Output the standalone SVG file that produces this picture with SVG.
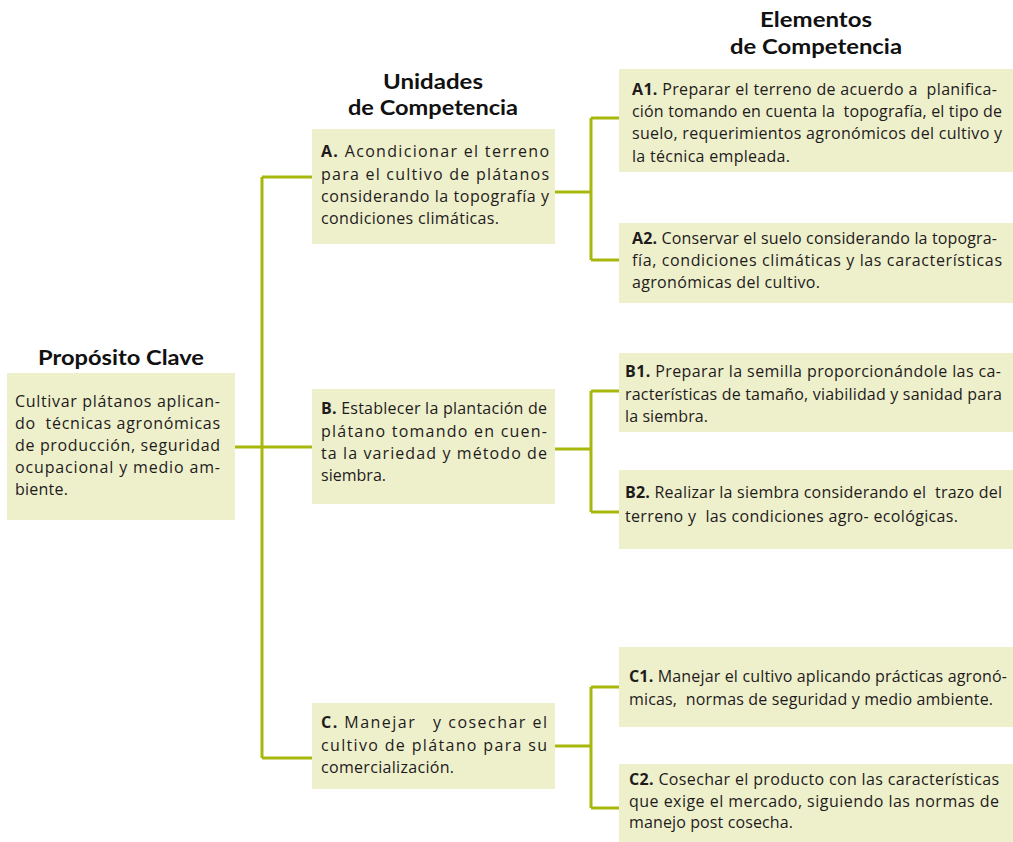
<svg xmlns="http://www.w3.org/2000/svg" width="1013" height="842" viewBox="0 0 1013 842">
<style>
.box{fill:#eef0cc}
.t{font-family:"Open Sans","Liberation Sans",sans-serif;font-size:16px;fill:#1e1b1c;white-space:pre}
.b{font-weight:bold}
.h{font-family:Lato,"Liberation Sans",sans-serif;font-size:21px;font-weight:bold;fill:#111;text-anchor:middle}
.c{fill:none;stroke:#a8b70c;stroke-width:3}
</style>
<rect width="1013" height="842" fill="#ffffff"/>
<g id="connectors">
<path class="c" d="M262,177 V758 M262,177 H312 M262,758 H312 M235,447 H312"/>
<path class="c" d="M555,192 H591 M591,118 V260 M591,118 H619 M591,260 H619"/>
<path class="c" d="M555,449 H591 M591,391 V512 M591,391 H619 M591,512 H619"/>
<path class="c" d="M555,746 H591 M591,687 V808 M591,687 H619 M591,808 H619"/>
</g>
<g id="headers">
<text class="h" x="121" y="365" textLength="166" lengthAdjust="spacingAndGlyphs">Propósito Clave</text>
<text class="h" x="433" y="89" textLength="100" lengthAdjust="spacingAndGlyphs">Unidades</text>
<text class="h" x="433" y="115" textLength="170" lengthAdjust="spacingAndGlyphs">de Competencia</text>
<text class="h" x="816" y="27" textLength="112" lengthAdjust="spacingAndGlyphs">Elementos</text>
<text class="h" x="816" y="54" textLength="172" lengthAdjust="spacingAndGlyphs">de Competencia</text>
</g>
<g id="proposito">
<rect class="box" x="7" y="373" width="228" height="147"/>
<text class="t" x="15" y="407" textLength="205" lengthAdjust="spacing">Cultivar plátanos aplican-</text>
<text class="t" x="15" y="429" textLength="205" lengthAdjust="spacing">do  técnicas agronómicas</text>
<text class="t" x="15" y="451" textLength="205" lengthAdjust="spacing">de producción, seguridad</text>
<text class="t" x="15" y="473" textLength="205" lengthAdjust="spacing">ocupacional y medio am-</text>
<text class="t" x="15" y="495" textLength="53" lengthAdjust="spacing">biente.</text>
</g>
<g id="unidad-a">
<rect class="box" x="312" y="129" width="243" height="115"/>
<text class="t" x="321" y="157" textLength="228" lengthAdjust="spacing"><tspan class="b">A.</tspan> Acondicionar el terreno</text>
<text class="t" x="321" y="180" textLength="228" lengthAdjust="spacing">para el cultivo de plátanos</text>
<text class="t" x="321" y="202" textLength="228" lengthAdjust="spacing">considerando la topografía y</text>
<text class="t" x="321" y="224" textLength="178" lengthAdjust="spacing">condiciones climáticas.</text>
</g>
<g id="unidad-b">
<rect class="box" x="312" y="389" width="243" height="115"/>
<text class="t" x="321" y="414" textLength="226" lengthAdjust="spacing"><tspan class="b">B.</tspan> Establecer la plantación de</text>
<text class="t" x="321" y="437" textLength="226" lengthAdjust="spacing">plátano tomando en cuen-</text>
<text class="t" x="321" y="459" textLength="226" lengthAdjust="spacing">ta la variedad y método de</text>
<text class="t" x="321" y="481" textLength="65" lengthAdjust="spacing">siembra.</text>
</g>
<g id="unidad-c">
<rect class="box" x="312" y="703" width="243" height="86"/>
<text class="t" x="321" y="728" textLength="226" lengthAdjust="spacing"><tspan class="b">C.</tspan> Manejar   y cosechar el</text>
<text class="t" x="321" y="751" textLength="226" lengthAdjust="spacing">cultivo de plátano para su</text>
<text class="t" x="321" y="773" textLength="133" lengthAdjust="spacing">comercialización.</text>
</g>
<g id="elemento-a1">
<rect class="box" x="619" y="69" width="394" height="103"/>
<text class="t" x="632" y="95" textLength="365" lengthAdjust="spacing"><tspan class="b">A1.</tspan> Preparar el terreno de acuerdo a  planifica-</text>
<text class="t" x="632" y="117" textLength="370" lengthAdjust="spacing">ción tomando en cuenta la  topografía, el tipo de</text>
<text class="t" x="632" y="139" textLength="370" lengthAdjust="spacing">suelo, requerimientos agronómicos del cultivo y</text>
<text class="t" x="632" y="162" textLength="158" lengthAdjust="spacing">la técnica empleada.</text>
</g>
<g id="elemento-a2">
<rect class="box" x="619" y="223" width="394" height="80"/>
<text class="t" x="632" y="244" textLength="365" lengthAdjust="spacing"><tspan class="b">A2.</tspan> Conservar el suelo considerando la topogra-</text>
<text class="t" x="632" y="266" textLength="370" lengthAdjust="spacing">fía, condiciones climáticas y las características</text>
<text class="t" x="632" y="288" textLength="188" lengthAdjust="spacing">agronómicas del cultivo.</text>
</g>
<g id="elemento-b1">
<rect class="box" x="619" y="353" width="394" height="79"/>
<text class="t" x="625" y="377" textLength="376" lengthAdjust="spacing"><tspan class="b">B1.</tspan> Preparar la semilla proporcionándole las ca-</text>
<text class="t" x="625" y="400" textLength="377" lengthAdjust="spacing">racterísticas de tamaño, viabilidad y sanidad para</text>
<text class="t" x="625" y="422" textLength="83" lengthAdjust="spacing">la siembra.</text>
</g>
<g id="elemento-b2">
<rect class="box" x="619" y="470" width="394" height="79"/>
<text class="t" x="625" y="498" textLength="377" lengthAdjust="spacing"><tspan class="b">B2.</tspan> Realizar la siembra considerando el  trazo del</text>
<text class="t" x="625" y="522" textLength="333" lengthAdjust="spacing">terreno y  las condiciones agro- ecológicas.</text>
</g>
<g id="elemento-c1">
<rect class="box" x="619" y="647" width="394" height="80"/>
<text class="t" x="629" y="682" textLength="378" lengthAdjust="spacing"><tspan class="b">C1.</tspan> Manejar el cultivo aplicando prácticas agronó-</text>
<text class="t" x="629" y="705" textLength="364" lengthAdjust="spacing">micas,  normas de seguridad y medio ambiente.</text>
</g>
<g id="elemento-c2">
<rect class="box" x="619" y="764" width="394" height="78"/>
<text class="t" x="629" y="785" textLength="370" lengthAdjust="spacing"><tspan class="b">C2.</tspan> Cosechar el producto con las características</text>
<text class="t" x="629" y="807" textLength="370" lengthAdjust="spacing">que exige el mercado, siguiendo las normas de</text>
<text class="t" x="629" y="828" textLength="164" lengthAdjust="spacing">manejo post cosecha.</text>
</g>
</svg>
